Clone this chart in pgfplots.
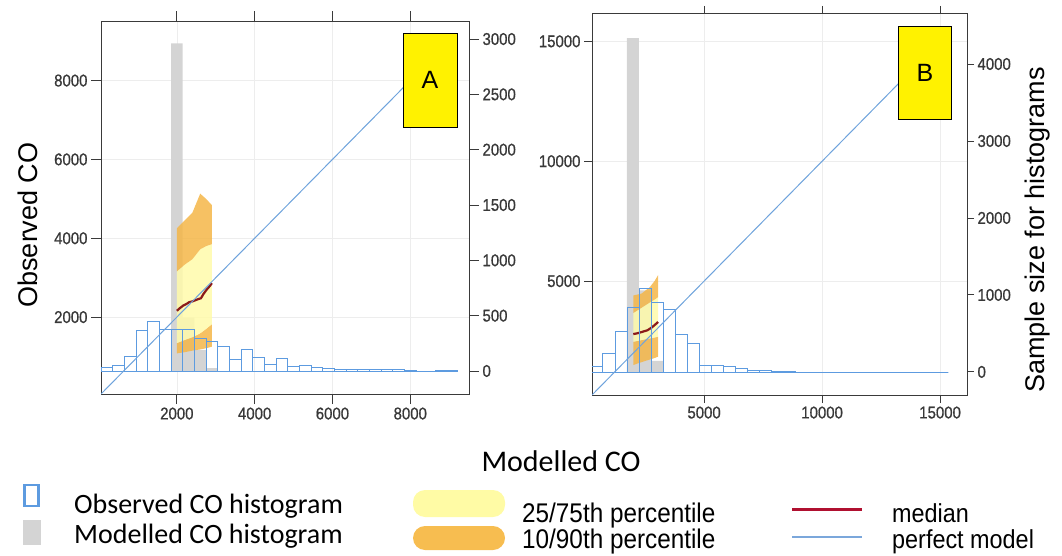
\documentclass[border=0pt]{standalone}
\usepackage{pgfplots}
\pgfplotsset{compat=1.18}
\usepackage{pgfplotstable}
\usepackage{fontspec}
\setmainfont{Liberation Sans}
\newfontfamily\tickfont[FakeStretch=0.88, FakeBold=0.8]{Liberation Sans}
\newfontfamily\narrowfont[FakeStretch=0.9]{Liberation Sans}
\newfontfamily\calfont{Carlito}

\definecolor{axgray}{HTML}{3A3A3A}
\definecolor{labgray}{HTML}{383838}
\definecolor{gridgray}{HTML}{EDEDED}
\definecolor{histblue}{HTML}{5D9BE0}
\definecolor{perfectblue}{HTML}{6FA3DC}
\definecolor{greyhist}{HTML}{D4D4D4}
\definecolor{yellowband}{HTML}{FFFAAA}
\definecolor{orangeband}{HTML}{F4B648}
\definecolor{medianred}{HTML}{8B1A1A}
\definecolor{legred}{HTML}{B01030}
\definecolor{legblue}{HTML}{7BA7DB}
\definecolor{legorange}{HTML}{F7BD50}
\definecolor{legyellow}{HTML}{FFFBA5}

\newcommand\ticks{\tickfont\fontsize{17}{18}\selectfont}

% ---------- panel A : observed histogram (bin left edge, count) ----------
\pgfplotstableread{
x cnt
50 30
350 48
650 129
950 371
1250 452
1550 380
1850 377
2150 377
2450 295
2750 265
3050 220
3350 108
3650 199
3950 120
4250 63
4550 115
4850 39
5150 48
5450 33
5750 27
6050 18
6350 15
6650 18
6950 12
7250 10
7550 10
7850 6
8150 0
8650 6
8950 5
9200 0
}\obsA

\pgfplotstableread{
x cnt
1850 2960
2150 482
2450 190
2750 25
3050 0
}\modA

\pgfplotstableread{
x y
2000 2160
2080 2230
2160 2290
2240 2330
2320 2380
2400 2400
2480 2430
2560 2460
2620 2480
2680 2580
2760 2690
2840 2780
2900 2860
}\medA

% ---------- panel B ----------
\pgfplotstableread{
x cnt
200 69
710 234
1220 524
1730 838
2240 1083
2750 908
3260 814
3770 481
4280 364
4790 82
5300 82
5810 69
6320 48
6830 26
7340 17
7850 12
8360 8
8870 0
15350 0
}\obsB

\pgfplotstableread{
x cnt
1730 4335
2240 1060
2750 143
3260 0
}\modB

\pgfplotstableread{
x y
2000 2790
2200 2830
2400 2890
2600 2950
2800 3080
3000 3250
3050 3300
}\medB

\pgfplotsset{
  panel/.style={
    scale only axis, anchor=south west,
    tick align=outside, major tick length=10pt,
    tick style={draw=axgray, line width=0.9pt},
    axis line style={draw=axgray, line width=1pt},
    ticklabel style={font=\ticks, text=labgray},
    scaled ticks=false,
    /pgf/number format/1000 sep={},
    /pgf/number format/assume math mode=true,
  },
  panelA/.style={panel, at={(101pt,161pt)}, width=368pt, height=373pt,
    xmin=50, xmax=9510},
  panelB/.style={panel, at={(592pt,160pt)}, width=375pt, height=381pt,
    xmin=250, xmax=16140},
}

\begin{document}
\begin{tikzpicture}[x=1pt,y=1pt]
\path[use as bounding box] (0pt,0pt) rectangle (1062pt,555pt);

% ======================= Panel A =======================
% frame, ticks and grid
\begin{axis}[panelA, ymin=50, ymax=9510,
  xtick={2000,4000,6000,8000}, ytick={2000,4000,6000,8000},
  xticklabel pos=lower, ytick pos=left,
  grid=major, grid style={gridgray, line width=0.7pt}]
\addplot[draw=none] coordinates {(50,50) (9510,9510)};
\end{axis}

% modelled histogram
\begin{axis}[panelA, ymin=-208, ymax=3163, hide axis]
\addplot[ybar interval, fill=greyhist, draw=none] table[x=x,y=cnt]{\modA};
\end{axis}

% 10/90 and 25/75 percentile bands, median
\begin{axis}[panelA, ymin=50, ymax=9510, hide axis]
\addplot[fill=orangeband, draw=none, fill opacity=0.85] coordinates {
  (2000,1080) (2200,1110) (2400,1150) (2600,1180) (2750,1210) (2900,1250)
  (2900,1820) (2750,1700) (2600,1590) (2400,1490) (2200,1420) (2000,1340)} -- cycle;
\addplot[fill=yellowband, draw=none, fill opacity=0.85] coordinates {
  (2000,1340) (2200,1420) (2400,1490) (2600,1590) (2750,1700) (2900,1820)
  (2900,3850) (2750,3800) (2600,3720) (2400,3470) (2200,3330) (2000,3160)} -- cycle;
\addplot[fill=orangeband, draw=none, fill opacity=0.85] coordinates {
  (2000,3160) (2200,3330) (2400,3470) (2600,3720) (2750,3800) (2900,3850)
  (2900,4840) (2750,5000) (2600,5130) (2400,4650) (2200,4450) (2000,4250)} -- cycle;
\addplot[medianred, line width=2.2pt] table[x=x,y=y]{\medA};
\end{axis}

% observed histogram with the count axis
\begin{axis}[panelA, ymin=-208, ymax=3163,
  axis x line=none, axis y line*=right, ytick={0,500,...,3000}]
\addplot[ybar interval, draw=histblue, fill=none, line width=0.8pt] table[x=x,y=cnt]{\obsA};
\end{axis}

% 1:1 line
\begin{axis}[panelA, ymin=50, ymax=9510, hide axis]
\addplot[perfectblue, line width=1pt] coordinates {(50,50) (9000,9000)};
\end{axis}

\node[draw=black, fill=yellow, line width=0.9pt, minimum width=54pt,
  minimum height=94pt, inner sep=0pt, font=\fontsize{25}{25}\selectfont]
  at (430pt,475pt) {A};

% ======================= Panel B =======================
\begin{axis}[panelB, ymin=250, ymax=16140,
  xtick={5000,10000,15000}, ytick={5000,10000,15000},
  xticklabel pos=lower, ytick pos=left, major tick length=8pt,
  grid=major, grid style={gridgray, line width=0.7pt}]
\addplot[draw=none] coordinates {(250,250) (16140,16140)};
\end{axis}

\begin{axis}[panelB, ymin=-300, ymax=4650, hide axis]
\addplot[ybar interval, fill=greyhist, draw=none] table[x=x,y=cnt]{\modB};
\end{axis}

\begin{axis}[panelB, ymin=250, ymax=16140, hide axis]
\addplot[fill=orangeband, draw=none, fill opacity=0.85] coordinates {
  (2000,1500) (2350,1620) (2700,1730) (2900,1790) (3050,1850)
  (3050,2680) (2900,2650) (2700,2610) (2350,2540) (2000,2470)} -- cycle;
\addplot[fill=yellowband, draw=none, fill opacity=0.85] coordinates {
  (2000,2470) (2350,2540) (2700,2610) (2900,2650) (3050,2680)
  (3050,4330) (2900,4230) (2700,4110) (2350,3890) (2000,3670)} -- cycle;
\addplot[fill=orangeband, draw=none, fill opacity=0.85] coordinates {
  (2000,3670) (2350,3890) (2700,4110) (2900,4230) (3050,4330)
  (3050,5250) (2900,5000) (2700,4750) (2350,4480) (2000,4400)} -- cycle;
\addplot[medianred, line width=2.2pt] table[x=x,y=y]{\medB};
\end{axis}

\begin{axis}[panelB, ymin=-300, ymax=4650, major tick length=7pt,
  axis x line=none, axis y line*=right, ytick={0,1000,...,4000}]
\addplot[ybar interval, draw=histblue, fill=none, line width=0.8pt] table[x=x,y=cnt]{\obsB};
\end{axis}

\begin{axis}[panelB, ymin=250, ymax=16140, hide axis]
\addplot[perfectblue, line width=1pt] coordinates {(250,250) (15000,15000)};
\end{axis}

\node[draw=black, fill=yellow, line width=0.9pt, minimum width=53pt,
  minimum height=93pt, inner sep=0pt, font=\fontsize{25}{25}\selectfont]
  at (925pt,482pt) {B};

% ======================= Axis titles =======================
\node[rotate=90, font=\fontsize{27}{27}\selectfont] at (28pt,330pt) {Observed CO};
\node[rotate=90, font=\fontsize{27}{27}\selectfont] at (1038pt,325pt) {Sample size for histograms};
\node[font=\calfont\fontsize{30}{30}\selectfont] at (561pt,94pt) {Modelled CO};

% ======================= Key =======================
\draw[histblue, line width=2.8pt, fill=white] (24.5pt,49pt) rectangle (38.5pt,70pt);
\fill[greyhist] (23pt,10pt) rectangle (41pt,35pt);
\node[anchor=base west, inner sep=0pt, font=\calfont\fontsize{28}{28}\selectfont] at (74pt,42pt) {Observed CO histogram};
\node[anchor=base west, inner sep=0pt, font=\calfont\fontsize{28}{28}\selectfont] at (74pt,12pt) {Modelled CO histogram};

\fill[legyellow, rounded corners=12pt] (413pt,38pt) rectangle (505pt,65pt);
\fill[legorange, rounded corners=12pt] (413pt,5pt) rectangle (505pt,29pt);
\node[anchor=base west, inner sep=0pt, font=\narrowfont\fontsize{27}{27}\selectfont] at (522pt,33pt) {25/75th percentile};
\node[anchor=base west, inner sep=0pt, font=\narrowfont\fontsize{27}{27}\selectfont] at (522pt,7pt) {10/90th percentile};

\draw[legred, line width=3pt] (792pt,46pt) -- (862pt,46pt);
\draw[legblue, line width=2.5pt] (792pt,18pt) -- (862pt,18pt);
\node[anchor=base west, inner sep=0pt, font=\narrowfont\fontsize{26}{26}\selectfont] at (892pt,33pt) {median};
\node[anchor=base west, inner sep=0pt, font=\narrowfont\fontsize{26}{26}\selectfont] at (892pt,7pt) {perfect model};
\end{tikzpicture}
\end{document}
